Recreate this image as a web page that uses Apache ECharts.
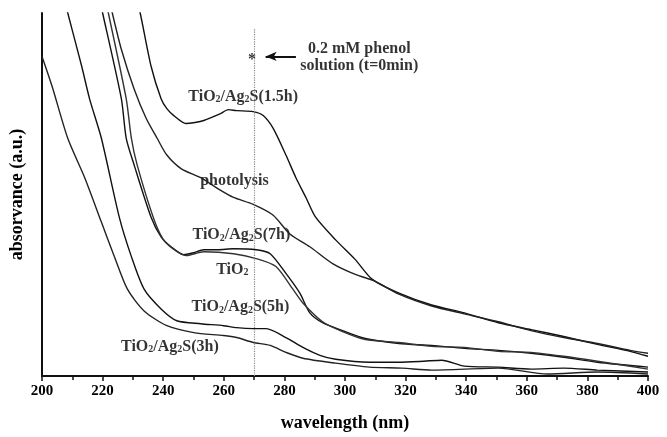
<!DOCTYPE html>
<html>
<head>
<meta charset="utf-8">
<script src="https://cdn.jsdelivr.net/npm/echarts@6/dist/echarts.min.js"></script>
<style>
  html, body { margin: 0; padding: 0; background: #fff; }
  #chart { width: 667px; height: 437px; }
</style>
</head>
<body>
<div id="chart"></div>
<script>
// [wavelength nm, absorbance a.u.]
const ag2s15h = [
  [231.1, 3.81], [232.4, 3.68], [236, 3.14], [239.3, 2.81], [241.2, 2.71], [243.5, 2.64],
  [247.5, 2.56], [250.5, 2.57], [253.4, 2.59], [258.9, 2.66], [261.5, 2.70], [264.2, 2.69],
  [269.7, 2.68], [273, 2.64], [276.3, 2.51], [280.5, 2.24], [283.8, 2.01], [287.1, 1.81],
  [290.3, 1.61], [296.9, 1.38], [303.4, 1.18], [309, 0.98], [317.8, 0.84], [328.6, 0.72],
  [339.4, 0.64], [350.6, 0.54], [361.4, 0.47], [372.2, 0.40], [383.3, 0.32], [394.1, 0.25],
  [400, 0.20]
]
const photolysis = [
  [222.3, 3.81], [223.2, 3.68], [226.2, 3.31], [230.4, 2.91], [234.4, 2.61], [238, 2.41],
  [241.2, 2.24], [246, 2.10], [252.4, 2.01], [258, 1.90], [263.2, 1.81], [269.7, 1.74],
  [276.3, 1.63], [281.8, 1.44], [288.4, 1.31], [295.9, 1.14], [303.4, 1.03], [310, 0.96],
  [317.8, 0.83], [328.6, 0.71], [339.4, 0.63], [350.6, 0.55], [361.4, 0.46], [372.2, 0.39],
  [383.3, 0.33], [394.1, 0.26], [400, 0.23]
]
const ag2s7h = [
  [219, 3.81], [220, 3.68], [226.2, 2.81], [227.8, 2.41], [230.4, 2.14], [236, 1.61],
  [239.3, 1.41], [242.6, 1.31], [246.8, 1.23], [250, 1.25], [253.4, 1.28], [258, 1.28],
  [263.2, 1.29], [270.7, 1.28], [275.3, 1.24], [280.5, 1.04], [285.1, 0.84], [288.4, 0.64],
  [292.6, 0.54], [299.2, 0.46], [306.7, 0.38], [317.8, 0.33], [328.6, 0.31], [339.4, 0.28],
  [350.6, 0.26], [361.4, 0.23], [372.2, 0.19], [383.3, 0.14], [400, 0.09]
]
const tio2 = [
  [221, 3.81], [221.9, 3.68], [227.8, 2.81], [229.5, 2.41], [231.4, 2.14], [236.7, 1.61],
  [239.9, 1.39], [243.2, 1.29], [247.5, 1.22], [253.4, 1.26], [263.2, 1.24], [270.7, 1.19],
  [277.2, 1.11], [282.8, 0.88], [286.1, 0.74], [292.6, 0.55], [299.2, 0.45], [306.7, 0.37],
  [317.8, 0.34], [328.6, 0.30], [339.4, 0.29], [350.6, 0.25], [361.4, 0.24], [372.2, 0.20],
  [383.3, 0.15], [400, 0.07]
]
const ag2s5h = [
  [207.5, 3.81], [208.5, 3.68], [213.1, 3.14], [215.7, 2.81], [219.6, 2.41], [225.5, 1.61],
  [229.5, 1.21], [233.7, 0.88], [239.3, 0.68], [244.5, 0.56], [252.4, 0.53], [259.9, 0.51],
  [264.2, 0.49], [269.7, 0.48], [274, 0.48], [280.5, 0.39], [286.1, 0.29], [291.7, 0.21],
  [296.9, 0.17], [308, 0.14], [317.8, 0.14], [326, 0.15], [331.9, 0.16], [339.4, 0.10],
  [350.6, 0.09], [361.4, 0.07], [372.2, 0.08], [383.3, 0.06], [400, 0.04]
]
const ag2s3h = [
  [200, 3.24], [203.3, 2.94], [208.5, 2.41], [214.1, 2.01], [219.6, 1.56], [223.9, 1.21],
  [228.2, 0.88], [233.7, 0.66], [241.2, 0.51], [250.1, 0.44], [259.9, 0.41], [264.2, 0.39],
  [269.7, 0.34], [275.3, 0.31], [280.5, 0.24], [286.1, 0.18], [296.9, 0.13], [308, 0.09],
  [318.8, 0.08], [328.6, 0.06], [350.6, 0.08], [366.9, 0.02], [383.3, 0.04], [400, 0.02]
]
const xTicks = [200, 220, 240, 260, 280, 300, 320, 340, 360, 380, 400]

const chart = echarts.init(document.getElementById('chart'))

const font = 'Liberation Serif'
const rich = {
  b: { fontFamily: font, fontWeight: 'bold', fontSize: 16, color: '#000', lineHeight: 18, verticalAlign: 'bottom' },
  s: { fontFamily: font, fontWeight: 'bold', fontSize: 10, color: '#000', lineHeight: 18, verticalAlign: 'bottom', padding: [6, 0, 0, 0] }
}
const sample = h => '{b|TiO}{s|2}{b|/Ag}{s|2}{b|S(' + h + ')}'

const curve = (name, data, color) => ({
  name: name,
  type: 'line',
  data: data,
  symbol: 'none',
  smooth: 0.25,
  lineStyle: { color: color, width: 1.4 },
  silent: true
})

// label centres in data units
const notes = [
  { value: [266.4, 2.84], text: sample('1.5h') },
  { value: [263.5, 1.99], text: '{b|photolysis}' },
  { value: [265.8, 1.44], text: sample('7h') },
  { value: [262.8, 1.09], text: '{b|TiO}{s|2}' },
  { value: [265.5, 0.71], text: sample('5h') },
  { value: [242.2, 0.31], text: sample('3h') }
]

const option = {
  animation: false,
  grid: { left: 37, right: 19, top: 13, bottom: 56 },
  xAxis: {
    type: 'value',
    min: 200,
    max: 400,
    interval: 20,
    name: 'wavelength (nm)',
    nameLocation: 'middle',
    nameGap: 38,
    nameTextStyle: { fontFamily: font, fontWeight: 'bold', fontSize: 18, color: '#000' },
    axisLine: { lineStyle: { color: '#111', width: 2 } },
    axisTick: { length: 5, lineStyle: { color: '#111', width: 1.5 } },
    minorTick: { show: true, splitNumber: 2, length: 4, lineStyle: { color: '#111', width: 1.5 } },
    axisLabel: {
      fontFamily: font, fontWeight: 'bold', fontSize: 15, color: '#000', margin: 8,
      formatter: v => xTicks.includes(v) ? String(v) : ''
    },
    splitLine: { show: false }
  },
  yAxis: {
    type: 'value',
    min: 0,
    max: 3.68,
    name: 'absorvance (a.u.)',
    nameLocation: 'middle',
    nameRotate: 90,
    nameGap: 16,
    nameTextStyle: { fontFamily: font, fontWeight: 'bold', fontSize: 18, color: '#000' },
    axisLine: { show: true, lineStyle: { color: '#111', width: 2 } },
    axisTick: { show: false },
    axisLabel: { show: false },
    splitLine: { show: false }
  },
  series: [
    curve('TiO2/Ag2S(1.5h)', ag2s15h, '#111'),
    curve('photolysis', photolysis, '#222'),
    curve('TiO2/Ag2S(7h)', ag2s7h, '#111'),
    curve('TiO2', tio2, '#333'),
    curve('TiO2/Ag2S(5h)', ag2s5h, '#111'),
    Object.assign(curve('TiO2/Ag2S(3h)', ag2s3h, '#222'), {
      markLine: {
        silent: true,
        symbol: 'none',
        label: { show: false },
        data: [
          [{ coord: [270, 0], lineStyle: { color: '#888', type: 'dotted', width: 1.2 } }, { coord: [270, 3.52] }],
          [{ coord: [283.8, 3.24], symbol: 'none', lineStyle: { color: '#111', type: 'solid', width: 2 } },
           { coord: [273.8, 3.24], symbol: 'arrow', symbolSize: [7, 11] }]
        ]
      }
    }),
    {
      type: 'scatter',
      silent: true,
      symbolSize: 0,
      data: notes,
      label: {
        show: true,
        position: 'inside',
        formatter: p => p.data.text,
        rich: rich
      }
    },
    {
      type: 'scatter',
      silent: true,
      symbolSize: 0,
      data: [{ value: [269.3, 3.21] }],
      label: {
        show: true, position: 'inside', formatter: '*',
        fontFamily: font, fontWeight: 'bold', fontSize: 16, color: '#000'
      }
    },
    {
      type: 'scatter',
      silent: true,
      symbolSize: 0,
      data: [{ value: [304.7, 3.23] }],
      label: {
        show: true, position: 'inside', align: 'center',
        formatter: '0.2 mM phenol\nsolution (t=0min)',
        fontFamily: font, fontWeight: 'bold', fontSize: 16, lineHeight: 17, color: '#000'
      }
    }
  ]
}

chart.setOption(option)
</script>
</body>
</html>
